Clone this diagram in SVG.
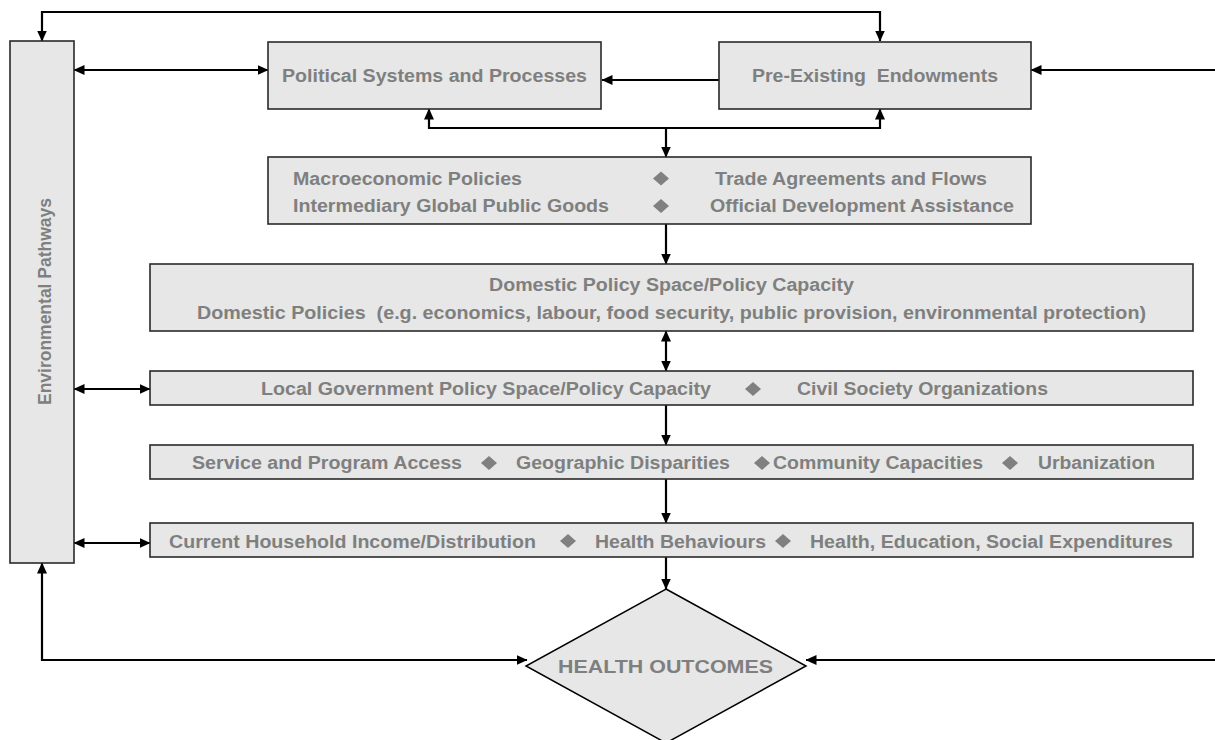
<svg xmlns="http://www.w3.org/2000/svg" width="1215" height="740" viewBox="0 0 1215 740">
<style>
.box{fill:#e6e7e6;stroke:#2a2a2a;stroke-width:1.6}
.t{font-family:"Liberation Sans",Arial,sans-serif;font-weight:bold;font-size:17.5px;fill:#7f7f7f;white-space:pre}
.ho{font-size:19px}
.dm{fill:#808080}
.c{fill:none;stroke:#000;stroke-width:2.2}
</style>
<defs>
<marker id="ah" viewBox="0 0 11 10" refX="10.5" refY="5" markerWidth="11" markerHeight="10" markerUnits="userSpaceOnUse" orient="auto-start-reverse">
<path d="M0,0 L11,5 L0,10 z" fill="#000"/>
</marker>
</defs>
<rect width="1215" height="740" fill="#fff"/>

<g id="connectors">
<path class="c" d="M42,41 V12 H880 V41" marker-start="url(#ah)" marker-end="url(#ah)"/>
<path class="c" d="M74,70 H268" marker-start="url(#ah)" marker-end="url(#ah)"/>
<path class="c" d="M719,80 H602" marker-end="url(#ah)"/>
<path class="c" d="M1215,70 H1031" marker-end="url(#ah)"/>
<path class="c" d="M429,109 V128 H880 V109" marker-start="url(#ah)" marker-end="url(#ah)"/>
<path class="c" d="M666,128 V157" marker-end="url(#ah)"/>
<path class="c" d="M666,224 V264" marker-end="url(#ah)"/>
<path class="c" d="M666,331 V371" marker-start="url(#ah)" marker-end="url(#ah)"/>
<path class="c" d="M74,389 H150" marker-start="url(#ah)" marker-end="url(#ah)"/>
<path class="c" d="M666,405 V445" marker-end="url(#ah)"/>
<path class="c" d="M666,479 V523" marker-end="url(#ah)"/>
<path class="c" d="M74,543 H150" marker-start="url(#ah)" marker-end="url(#ah)"/>
<path class="c" d="M666,557 V589" marker-end="url(#ah)"/>
<path class="c" d="M42,563 V660 H527" marker-start="url(#ah)" marker-end="url(#ah)"/>
<path class="c" d="M1215,660 H806" marker-end="url(#ah)"/>
</g>

<g id="environmental-pathways">
<rect class="box" x="10" y="41" width="64" height="522"/>
<text class="t" transform="translate(51,301.5) rotate(-90)" text-anchor="middle" textLength="207" lengthAdjust="spacingAndGlyphs">Environmental Pathways</text>
</g>

<g id="political-systems">
<rect class="box" x="268" y="42" width="333" height="67"/>
<text class="t" x="282" y="82" textLength="305" lengthAdjust="spacingAndGlyphs">Political Systems and Processes</text>
</g>

<g id="pre-existing-endowments">
<rect class="box" x="719" y="42" width="312" height="67"/>
<text class="t" x="752" y="82" textLength="246" lengthAdjust="spacingAndGlyphs">Pre-Existing  Endowments</text>
</g>

<g id="global-factors">
<rect class="box" x="268" y="157" width="763" height="67"/>
<text class="t" x="293" y="184.5" textLength="229" lengthAdjust="spacingAndGlyphs">Macroeconomic Policies</text>
<text class="t" x="715" y="184.5" textLength="272" lengthAdjust="spacingAndGlyphs">Trade Agreements and Flows</text>
<text class="t" x="293" y="212" textLength="316" lengthAdjust="spacingAndGlyphs">Intermediary Global Public Goods</text>
<text class="t" x="710" y="212" textLength="304" lengthAdjust="spacingAndGlyphs">Official Development Assistance</text>
<polygon class="dm" points="653,178.5 661,171.5 669,178.5 661,185.5"/>
<polygon class="dm" points="653,206 661,199 669,206 661,213"/>
</g>

<g id="domestic-policy">
<rect class="box" x="150" y="264" width="1043" height="67"/>
<text class="t" x="489" y="291" textLength="365" lengthAdjust="spacingAndGlyphs">Domestic Policy Space/Policy Capacity</text>
<text class="t" x="197" y="319" textLength="949" lengthAdjust="spacingAndGlyphs">Domestic Policies  (e.g. economics, labour, food security, public provision, environmental protection)</text>
</g>

<g id="local-government">
<rect class="box" x="150" y="371" width="1043" height="34"/>
<text class="t" x="261" y="395" textLength="450" lengthAdjust="spacingAndGlyphs">Local Government Policy Space/Policy Capacity</text>
<polygon class="dm" points="745,389 753,382 761,389 753,396"/>
<text class="t" x="797" y="395" textLength="251" lengthAdjust="spacingAndGlyphs">Civil Society Organizations</text>
</g>

<g id="service-access">
<rect class="box" x="150" y="445" width="1043" height="34"/>
<text class="t" x="192" y="469" textLength="270" lengthAdjust="spacingAndGlyphs">Service and Program Access</text>
<polygon class="dm" points="481,463 489,456 497,463 489,470"/>
<text class="t" x="516" y="469" textLength="214" lengthAdjust="spacingAndGlyphs">Geographic Disparities</text>
<polygon class="dm" points="754,463 762,456 770,463 762,470"/>
<text class="t" x="773" y="469" textLength="210" lengthAdjust="spacingAndGlyphs">Community Capacities</text>
<polygon class="dm" points="1002,463 1010,456 1018,463 1010,470"/>
<text class="t" x="1038" y="469" textLength="117" lengthAdjust="spacingAndGlyphs">Urbanization</text>
</g>

<g id="household">
<rect class="box" x="150" y="523" width="1043" height="34"/>
<text class="t" x="169" y="547.5" textLength="367" lengthAdjust="spacingAndGlyphs">Current Household Income/Distribution</text>
<polygon class="dm" points="560,541 568,534 576,541 568,548"/>
<text class="t" x="595" y="547.5" textLength="171" lengthAdjust="spacingAndGlyphs">Health Behaviours</text>
<polygon class="dm" points="775,541 783,534 791,541 783,548"/>
<text class="t" x="810" y="547.5" textLength="363" lengthAdjust="spacingAndGlyphs">Health, Education, Social Expenditures</text>
</g>

<g id="health-outcomes">
<polygon fill="#e6e7e6" stroke="#000" stroke-width="1.5" points="666,589 806,666 666,743 526,666"/>
<text class="t ho" x="558" y="673" textLength="215" lengthAdjust="spacingAndGlyphs">HEALTH OUTCOMES</text>
</g>
</svg>
